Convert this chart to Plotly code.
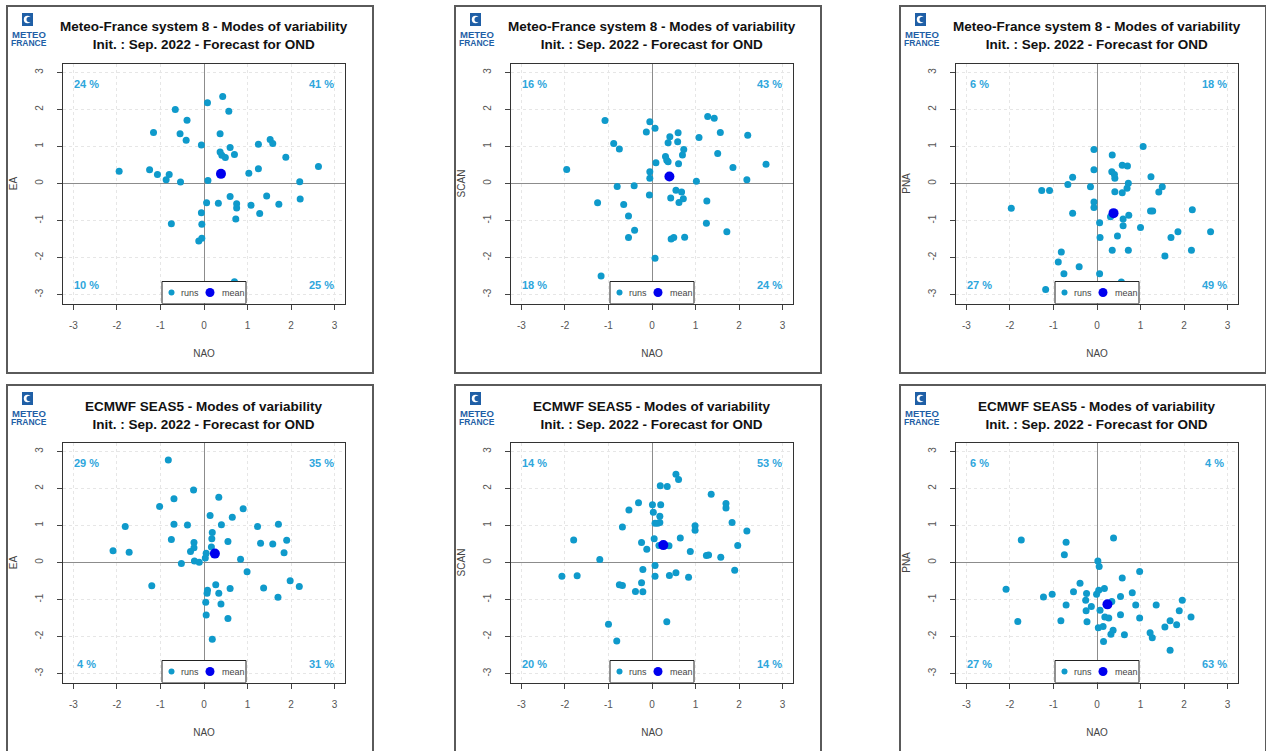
import plotly.graph_objects as go

W, H = 1266, 751
FONT = "Liberation Sans, Arial, sans-serif"

MODELS = ["Meteo-France system 8", "ECMWF SEAS5"]
MODES = ["EA", "SCAN", "PNA"]
SUBTITLE = "Init. : Sep. 2022 - Forecast for OND"
TICKS = [-3, -2, -1, 0, 1, 2, 3]
TICK_LABELS = ["-3", "-2", "-1", "0", "1", "2", "3"]
AX_RANGE = [-3.24, 3.24]

# Meteo-France system 8, runs
mf8_ea_nao = [-1.95, -1.25, -1.16, -1.07, -0.80, -0.87, -0.66, -0.39, -0.55, -0.41,
              -0.54, -0.06, 0.08, 0.43, 0.57, 0.37, 0.37, 0.41, 0.49, 0.60,
              0.70, 0.09, 1.03, 1.25, 1.25, 1.52, 1.58, 1.88, 2.63, 2.20,
              2.21, 1.72, 1.44, 1.28, 1.08, 0.75, 0.75, 0.73, 0.60, 0.33,
              0.06, -0.06, -0.05, -0.05, -0.12, -0.75, 0.70]
mf8_ea = [0.33, 0.37, 1.38, 0.24, 0.24, 0.10, 2.00, 1.71, 1.34, 1.17,
          0.04, 1.04, 2.18, 2.35, 1.95, 1.34, 0.85, 0.76, 0.70, 0.97,
          0.78, 0.08, 0.28, 1.06, 0.40, 1.19, 1.08, 0.71, 0.46, 0.05,
          -0.42, -0.56, -0.34, -0.81, -0.59, -0.55, -0.66, -0.96, -0.35, -0.53,
          -0.52, -0.79, -1.10, -1.48, -1.55, -1.09, -2.65]

mf8_scan_nao = [-1.96, -1.08, -0.88, -0.75, -1.25, -0.80, -0.41, -0.65, -0.54, -0.40,
                -0.54, -1.17, -0.13, -0.05, -0.05, -0.05, -0.06, 0.07, 0.09, 0.07,
                0.31, 0.34, 0.37, 0.37, 0.41, 0.60, 0.59, 0.73, 0.70, 0.61,
                1.02, 1.08, 1.28, 1.43, 1.57, 1.51, 1.86, 2.20, 2.18, 2.62,
                0.55, 0.68, 0.43, 0.62, 0.72, 1.26, 1.25, 1.72, 0.44, 0.50, 0.75]
mf8_scan = [0.38, 1.70, 1.08, 0.93, -0.52, -0.08, -0.06, -0.57, -0.88, -1.26,
            -1.46, -2.50, 1.39, 1.67, 0.32, 0.14, -0.31, 1.49, 0.56, -2.02,
            0.73, 0.63, 0.59, 1.10, 1.26, 1.37, 1.13, 0.92, 0.77, 0.53,
            0.06, 1.24, 1.81, 1.76, 1.38, 0.81, 0.43, 1.30, 0.10, 0.52,
            -0.18, -0.23, -0.39, -0.51, -0.41, -0.47, -1.07, -1.30, -1.50, -1.46, -1.45]

mf8_pna_nao = [-1.97, -1.27, -1.09, -0.67, -0.56, -0.56, -0.15, -0.07, -0.07, -0.07,
               -0.07, -0.82, -0.89, -0.76, -0.41, -1.18, 0.06, 0.35, 0.34, 0.40,
               0.41, 0.58, 0.70, 0.72, 0.69, 0.41, 0.58, 1.06, 1.24, 1.50,
               1.42, 0.06, 0.07, 0.31, 0.60, 0.60, 0.73, 0.47, 0.35, 0.72,
               1.00, 1.23, 1.28, 1.86, 1.70, 2.19, 2.61, 2.17, 1.56, 0.56]
mf8_pna = [-0.67, -0.19, -0.19, -0.03, 0.17, -0.80, -0.09, 0.92, 0.37, -0.50,
           -0.65, -1.85, -2.12, -2.44, -2.25, -2.86, -2.44, 0.77, 0.32, 0.24,
           0.14, 0.49, 0.47, 0.01, -0.13, -0.22, -0.25, 1.00, 0.18, -0.09,
           -0.23, -1.06, -1.46, -0.90, -0.96, -1.14, -0.86, -1.42, -1.80, -1.80,
           -1.19, -0.74, -0.74, -1.30, -1.46, -0.71, -1.30, -1.80, -1.96, -2.66]

# ECMWF SEAS5, runs
ec_ea_nao = [-2.09, -1.81, -1.72, -1.20, -1.02, -0.82, -0.69, -0.69, -0.75, -0.38,
             -0.52, -0.24, -0.23, -0.23, -0.31, -0.22, -0.11, 0.03, 0.05, 0.14,
             0.19, 0.18, 0.17, 0.34, 0.40, 0.65, 0.55, 0.90, 0.84, 1.23,
             1.30, 1.58, 1.71, 1.90, 1.84, 0.99, 1.98, 2.19, 1.37, 1.70,
             0.60, 0.27, 0.34, 0.08, 0.07, 0.04, 0.39, 0.05, 0.55, 0.19]
ec_ea = [0.32, 0.97, 0.28, -0.63, 1.51, 2.77, 1.72, 1.03, 0.62, 1.01,
         -0.03, 1.96, 0.54, 0.40, 0.30, 0.04, 0.01, 0.12, 0.25, 1.27,
         0.81, 0.64, 0.42, 1.76, 1.02, 1.22, 0.57, 1.45, 0.09, 0.97,
         0.52, 0.50, 1.03, 0.60, 0.26, -0.25, -0.49, -0.65, -0.69, -0.94,
         -0.70, -0.60, -0.83, -0.75, -0.83, -1.07, -1.12, -1.42, -1.51, -2.07]

ec_scan_nao = [-2.07, -1.72, -1.80, -1.20, -1.00, -0.81, -0.75, -0.68, -0.68, -0.53,
               -0.31, -0.24, -0.12, -0.21, -0.24, -0.38, -0.21, 0.01, 0.03, 0.07,
               0.05, 0.19, 0.35, 0.20, 0.18, 0.18, 0.13, 0.16, 0.39, 0.55,
               0.61, 0.65, 0.88, 0.99, 0.99, 1.25, 1.30, 1.36, 1.70, 1.70,
               1.84, 1.58, 1.97, 2.18, 0.07, 0.07, 0.40, 0.55, 0.84, 1.90, 0.34]
ec_scan = [-0.37, -0.36, 0.61, 0.08, -1.67, -2.12, -0.60, -0.62, 0.96, 1.42,
           1.61, 0.54, 0.36, -0.19, -0.55, -0.78, -0.79, 1.56, 1.36, 1.06,
           0.64, 2.07, 2.05, 1.56, 1.25, 1.08, 1.06, 0.46, 0.45, 2.38,
           2.24, 0.66, 0.30, 0.99, 0.87, 0.19, 0.20, 1.84, 1.59, 1.47,
           1.08, 0.14, 0.46, 0.85, -0.08, -0.37, -0.35, -0.28, -0.40, -0.21, -1.60]

ec_pna_nao = [-2.09, -1.74, -1.82, -1.23, -1.03, -0.83, -0.75, -0.71, -0.71, -0.54,
              -0.39, -0.24, -0.26, -0.25, -0.23, -0.13, -0.01, 0.02, 0.05, 0.04,
              0.17, 0.07, 0.03, 0.14, 0.34, 0.18, 0.27, 0.38, 0.58, 0.54,
              0.54, 0.37, 0.32, 0.15, 0.63, 0.81, 0.89, 0.98, 0.98, 1.36,
              1.22, 1.27, 1.56, 1.68, 1.83, 1.89, 1.96, 2.16, 1.68]
ec_pna = [-0.72, 0.61, -1.59, -0.93, -0.86, -1.57, 0.21, 0.55, -1.15, -0.79,
          -0.56, -0.84, -1.02, -1.30, -1.60, -1.19, -0.86, 0.04, -0.11, -0.75,
          -0.70, -1.29, -1.76, -1.73, -1.05, -1.47, -1.50, 0.66, -0.42, -0.92,
          -1.41, -1.83, -1.94, -2.13, -1.95, -0.82, -1.15, -1.50, -0.24, -1.15,
          -1.90, -2.03, -1.74, -1.57, -1.68, -1.30, -1.02, -1.47, -2.37]

# ensemble means (EA, SCAN, PNA)
mf8_mean_nao = [0.39, 0.40, 0.38]
mf8_mean_mode = [0.26, 0.19, -0.80]
ec_mean_nao = [0.25, 0.26, 0.24]
ec_mean_mode = [0.24, 0.47, -1.13]

# quadrant percentages: upper-left, upper-right, lower-left, lower-right
mf8_pct = [[24, 41, 10, 25], [16, 43, 18, 24], [6, 18, 27, 49]]
ec_pct = [[29, 35, 4, 31], [14, 53, 20, 14], [6, 4, 27, 63]]

RUNS_COLOR = "#0f9acb"
MEAN_COLOR = "#0000ee"
PCT_COLOR = "#2ea6dc"
LOGO_BLUE = "#1f5fa6"

# page geometry (px)
COL_LEFT = [7, 455, 900]
ROW_TOP = [6, 385]
FRAME_W, FRAME_H = 366, 367
PLOT_DX, PLOT_DY = 56, 57.5
PLOT_W, PLOT_H = 282, 240


def px(x):
    return x / W


def py(y):
    return 1 - y / H


def pixel_shape(n, kind, x0, x1, y0, y1, **kw):
    # shape sized in pixels, anchored at the bottom centre of a plot
    return dict(
        type=kind, xref="x" + n, yref="y" + n, xanchor=0, yanchor=AX_RANGE[0],
        xsizemode="pixel", ysizemode="pixel", x0=x0, x1=x1, y0=y0, y1=y1,
        layer="above", **kw,
    )


panels = [
    (mf8_ea_nao, mf8_ea), (mf8_scan_nao, mf8_scan), (mf8_pna_nao, mf8_pna),
    (ec_ea_nao, ec_ea), (ec_scan_nao, ec_scan), (ec_pna_nao, ec_pna),
]
means = [list(zip(mf8_mean_nao, mf8_mean_mode)), list(zip(ec_mean_nao, ec_mean_mode))]
pcts = [mf8_pct, ec_pct]

fig = go.Figure()
shapes = []
annotations = []
layout = {}

for k, (xs, ys) in enumerate(panels):
    r, c = divmod(k, 3)
    n = "" if k == 0 else str(k + 1)
    L, T = COL_LEFT[c], ROW_TOP[r]

    fig.add_trace(go.Scatter(
        x=xs, y=ys, mode="markers", name="runs", showlegend=False,
        marker=dict(color=RUNS_COLOR, size=7),
        xaxis="x" + n, yaxis="y" + n,
    ))
    mx, my = means[r][c]
    fig.add_trace(go.Scatter(
        x=[mx], y=[my], mode="markers", name="mean", showlegend=False,
        marker=dict(color=MEAN_COLOR, size=10),
        xaxis="x" + n, yaxis="y" + n,
    ))

    x0, x1 = px(L + PLOT_DX), px(L + PLOT_DX + PLOT_W)
    y0, y1 = py(T + PLOT_DY + PLOT_H), py(T + PLOT_DY)

    axis = dict(
        range=AX_RANGE, tickmode="array", tickvals=TICKS, ticktext=TICK_LABELS,
        ticks="outside", ticklen=5, tickcolor="#444", tickfont=dict(size=10, color="#555"),
        showgrid=True, gridcolor="#e6e6e6", griddash="dot", gridwidth=1,
        zeroline=True, zerolinecolor="#8c8c8c", zerolinewidth=1,
        showline=True, linecolor="#333", linewidth=1, mirror=True,
        fixedrange=True,
    )
    layout["xaxis" + n] = dict(
        axis, domain=[x0, x1], anchor="y" + n, ticklabelstandoff=7,
        title=dict(text="NAO", font=dict(size=10, color="#444"), standoff=20),
    )
    layout["yaxis" + n] = dict(
        axis, domain=[y0, y1], anchor="x" + n, tickangle=-90, ticklabelstandoff=10,
        title=dict(text=MODES[c], font=dict(size=10, color="#444"), standoff=14),
    )

    # legend box at the bottom centre of each plot
    shapes.append(pixel_shape(n, "rect", -42, 42, 0, 22,
                              fillcolor="white", line=dict(color="#222", width=1)))
    shapes.append(pixel_shape(n, "circle", -35.5, -29.5, 8, 14,
                              fillcolor=RUNS_COLOR, line=dict(width=0)))
    shapes.append(pixel_shape(n, "circle", 1.5, 10.5, 6.5, 15.5,
                              fillcolor=MEAN_COLOR, line=dict(width=0)))
    for word, shift in [("runs", -14), ("mean", 29)]:
        annotations.append(dict(
            text=word, xref="x" + n, yref="y" + n, x=0, y=AX_RANGE[0],
            xshift=shift, yshift=11, xanchor="center", yanchor="middle",
            showarrow=False, font=dict(size=9, color="#444"),
        ))

    # quadrant percentages
    ul, ur, ll, lr = pcts[r][c]
    for val, qx, qy in [(ul, -2.7, 2.68), (ur, 2.7, 2.68), (ll, -2.7, -2.73), (lr, 2.7, -2.73)]:
        annotations.append(dict(
            text=f"<b>{val} %</b>", x=qx, y=qy, xref="x" + n, yref="y" + n,
            showarrow=False, font=dict(size=11, color=PCT_COLOR),
        ))

    # title
    annotations.append(dict(
        text=f"<b>{MODELS[r]} - Modes of variability</b><br><b>{SUBTITLE}</b>",
        x=px(L + 197), y=py(T + 30), xref="paper", yref="paper",
        xanchor="center", yanchor="middle", showarrow=False,
        font=dict(size=13.5, color="#111"),
    ))

    # frame
    shapes.append(dict(
        type="rect", xref="paper", yref="paper",
        x0=px(L), x1=px(L + FRAME_W), y0=py(T + FRAME_H), y1=py(T),
        line=dict(color="#5a5a5a", width=2), fillcolor="rgba(0,0,0,0)", layer="below",
    ))

    # logo
    shapes.append(dict(
        type="rect", xref="paper", yref="paper",
        x0=px(L + 15), x1=px(L + 26), y0=py(T + 20), y1=py(T + 7),
        line=dict(width=0), fillcolor=LOGO_BLUE,
    ))
    shapes.append(dict(
        type="circle", xref="paper", yref="paper",
        x0=px(L + 16.8), x1=px(L + 24.2), y0=py(T + 17.2), y1=py(T + 9.8),
        line=dict(width=0), fillcolor="white",
    ))
    shapes.append(dict(
        type="circle", xref="paper", yref="paper",
        x0=px(L + 19.5), x1=px(L + 25.2), y0=py(T + 16.3), y1=py(T + 10.7),
        line=dict(width=0), fillcolor=LOGO_BLUE,
    ))
    for word, dy, size in [("METEO", 28.5, 9.5), ("FRANCE", 37, 8.5)]:
        annotations.append(dict(
            text=f"<b>{word}</b>", x=px(L + 22), y=py(T + dy),
            xref="paper", yref="paper", xanchor="center", yanchor="middle",
            showarrow=False, font=dict(size=size, color=LOGO_BLUE),
        ))

fig.update_layout(
    width=W, height=H,
    margin=dict(l=0, r=0, t=0, b=0),
    paper_bgcolor="white", plot_bgcolor="white",
    font=dict(family=FONT, color="#333"),
    shapes=shapes, annotations=annotations,
    **layout,
)

fig.write_html(
    "out.html",
    config={"displayModeBar": False},
    post_script="document.body.style.margin = '0';",
)
